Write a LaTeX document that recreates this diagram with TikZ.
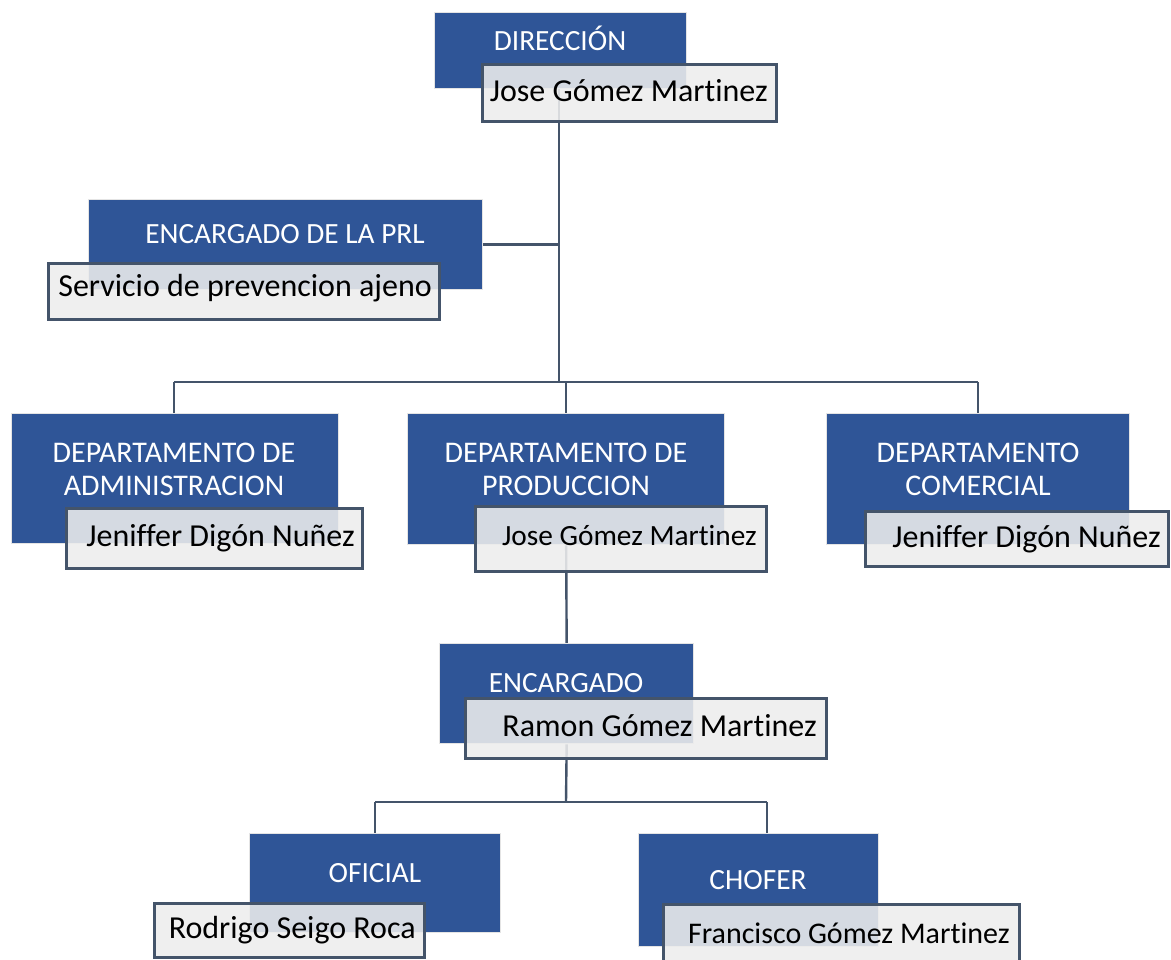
\documentclass[tikz,border=0pt]{standalone}
\usepackage{fontspec}
\setmainfont{Carlito}[Ligatures={NoCommon}]
\usetikzlibrary{backgrounds}
\definecolor{boxblue}{HTML}{2F5597}
\definecolor{linecol}{HTML}{44546A}
\definecolor{boxgray}{HTML}{EDEDED}
\definecolor{rim}{HTML}{E4E4E4}
\tikzset{
 bluebox/.style={draw=rim, line width=1pt, fill=boxblue, anchor=north west, inner sep=0pt},
 graybox/.style={draw=linecol, line width=1.9pt, fill=boxgray, fill opacity=0.88, anchor=north west, inner sep=0pt},
 bluetext/.style={text=white, font=\fontsize{22}{26}\selectfont, anchor=base, inner sep=0pt},
 depttext/.style={bluetext, font=\fontsize{22.5}{26}\selectfont},
 graytext/.style={text=black, font=\fontsize{24}{28}\selectfont, anchor=base east, inner sep=0pt},
 conn/.style={draw=linecol, line width=1.8pt},
}
\begin{document}
\begin{tikzpicture}[x=0.75pt,y=-0.75pt]
\useasboundingbox (0,0) rectangle (1171,960);
% blue boxes
\node[bluebox, minimum width=189pt, minimum height=57pt] (b1) at (434,12) {};
\node[bluebox, minimum width=295.5pt, minimum height=67.5pt] (b2) at (88,199) {};
\node[bluebox, minimum width=245.25pt, minimum height=97.5pt] (b3) at (11,413) {};
\node[bluebox, minimum width=237.75pt, minimum height=98.25pt] (b4) at (407,413) {};
\node[bluebox, minimum width=227.25pt, minimum height=98.25pt] (b5) at (826,413) {};
\node[bluebox, minimum width=190.5pt, minimum height=75pt] (b6) at (439,643) {};
\node[bluebox, minimum width=188.25pt, minimum height=74.25pt] (b7) at (249,833) {};
\node[bluebox, minimum width=180pt, minimum height=84.75pt] (b8) at (638,833) {};
% gray boxes
\node[graybox, minimum width=220.5pt, minimum height=42.75pt] (g1) at (481,63) {};
\node[graybox, minimum width=293.25pt, minimum height=42pt] (g2) at (47,262) {};
\node[graybox, minimum width=222pt, minimum height=45pt] (g3) at (65,507) {};
\node[graybox, minimum width=218.25pt, minimum height=48.75pt] (g4) at (474,505) {};
\node[graybox, minimum width=227.25pt, minimum height=41.25pt] (g5) at (864,510) {};
\node[graybox, minimum width=270.75pt, minimum height=45pt] (g6) at (464,697) {};
\node[graybox, minimum width=202.5pt, minimum height=40.5pt] (g7) at (153,902) {};
\node[graybox, minimum width=267pt, minimum height=45pt] (g8) at (662,903) {};
% blue texts
\node[bluetext] (b1t) at (560,50) {DIRECCIÓN};
\node[bluetext] (b2t) at (285,243) {ENCARGADO DE LA PRL};
\node[depttext] (b3ta) at (174,462) {DEPARTAMENTO DE};
\node[depttext] (b3tb) at (174,495) {ADMINISTRACION};
\node[depttext] (b4ta) at (566,462) {DEPARTAMENTO DE};
\node[depttext] (b4tb) at (566,495) {PRODUCCION};
\node[depttext] (b5ta) at (978,462) {DEPARTAMENTO};
\node[depttext] (b5tb) at (978,495) {COMERCIAL};
\node[bluetext] (b6t) at (566,692) {ENCARGADO};
\node[bluetext] (b7t) at (375,882) {OFICIAL};
\node[bluetext] (b8t) at (758,889) {CHOFER};
% gray texts
\node[graytext] (g1t) at (768,101) {Jose Gómez Martinez};
\node[graytext] (g2t) at (432,296) {Servicio de prevencion ajeno};
\node[graytext] (g3t) at (355,546) {Jeniffer Digón Nuñez};
\node[graytext, font=\fontsize{22}{26}\selectfont] (g4t) at (757,545) {Jose Gómez Martinez};
\node[graytext] (g5t) at (1161,547) {Jeniffer Digón Nuñez};
\node[graytext] (g6t) at (817,736) {Ramon Gómez Martinez};
\node[graytext] (g7t) at (416,938) {Rodrigo Seigo Roca};
\node[graytext, font=\fontsize{22.5}{26}\selectfont] (g8t) at (1010,943) {Francisco Gómez Martinez};
% junctions
\coordinate (j1) at (559,382);
\coordinate (jl) at (174,382);
\coordinate (jp) at (566,382);
\coordinate (jr) at (978,382);
\coordinate (k) at (566,802);
\coordinate (kl) at (375,802);
\coordinate (kr) at (767,802);
\begin{scope}[on background layer]
\fill[white] (0,0) rectangle (1171,960);
\draw[conn] (j1 |- b1.south) -- (j1);
\draw[conn] (b2.east) -- (b2.east -| j1);
\draw[conn] (jl) -- (jr);
\draw[conn] (jl) -- (jl |- b3.north);
\draw[conn] (jp) -- (jp |- b4.north);
\draw[conn] (jr) -- (jr |- b5.north);
\draw[conn] (b4.south) -- (b6.north);
\draw[conn] (b6.south) -- (k);
\draw[conn] (kl) -- (kr);
\draw[conn] (kl) -- (kl |- b7.north);
\draw[conn] (kr) -- (kr |- b8.north);
\end{scope}
\end{tikzpicture}
\end{document}
